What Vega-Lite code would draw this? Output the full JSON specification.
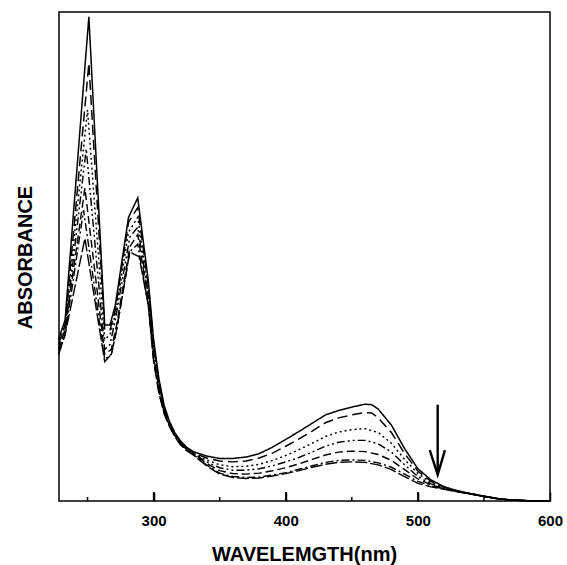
{
  "$schema": "https://vega.github.io/schema/vega-lite/v6.json",
  "width": 491,
  "height": 489,
  "autosize": {"type": "none"},
  "padding": {"left": 59, "top": 12, "right": 17, "bottom": 64},
  "background": "white",
  "config": {"view": {"stroke": "black", "strokeWidth": 1.5}, "font": "Liberation Sans"},
  "datasets": {
    "spectra": [
      {"s":1,"w":228,"a":0.33},{"s":1,"w":233,"a":0.37},{"s":1,"w":251,"a":0.99},{"s":1,"w":263,"a":0.36},{"s":1,"w":267,"a":0.36},{"s":1,"w":271,"a":0.40},{"s":1,"w":281,"a":0.58},{"s":1,"w":288,"a":0.62},{"s":1,"w":296,"a":0.45},{"s":1,"w":300,"a":0.33},{"s":1,"w":304,"a":0.25},{"s":1,"w":308,"a":0.195},{"s":1,"w":312,"a":0.163},{"s":1,"w":316,"a":0.14},{"s":1,"w":320,"a":0.124},{"s":1,"w":325,"a":0.11},{"s":1,"w":330,"a":0.101},{"s":1,"w":340,"a":0.092},{"s":1,"w":350,"a":0.087},{"s":1,"w":360,"a":0.087},{"s":1,"w":370,"a":0.09},{"s":1,"w":380,"a":0.097},{"s":1,"w":390,"a":0.11},{"s":1,"w":400,"a":0.126},{"s":1,"w":410,"a":0.142},{"s":1,"w":420,"a":0.159},{"s":1,"w":430,"a":0.176},{"s":1,"w":440,"a":0.185},{"s":1,"w":450,"a":0.192},{"s":1,"w":460,"a":0.198},{"s":1,"w":465,"a":0.197},{"s":1,"w":470,"a":0.188},{"s":1,"w":480,"a":0.155},{"s":1,"w":490,"a":0.107},{"s":1,"w":500,"a":0.066},{"s":1,"w":510,"a":0.043},{"s":1,"w":520,"a":0.029},{"s":1,"w":530,"a":0.021},{"s":1,"w":540,"a":0.015},{"s":1,"w":550,"a":0.01},{"s":1,"w":560,"a":0.005},{"s":1,"w":570,"a":0.002},{"s":1,"w":580,"a":0.001},{"s":1,"w":590,"a":0},{"s":1,"w":600,"a":0},

      {"s":2,"w":228,"a":0.32},{"s":2,"w":233,"a":0.36},{"s":2,"w":251,"a":0.895},{"s":2,"w":263,"a":0.35},{"s":2,"w":267,"a":0.35},{"s":2,"w":271,"a":0.39},{"s":2,"w":281,"a":0.57},{"s":2,"w":288,"a":0.60},{"s":2,"w":296,"a":0.44},{"s":2,"w":300,"a":0.32},{"s":2,"w":304,"a":0.245},{"s":2,"w":308,"a":0.19},{"s":2,"w":312,"a":0.16},{"s":2,"w":316,"a":0.138},{"s":2,"w":320,"a":0.122},{"s":2,"w":325,"a":0.108},{"s":2,"w":330,"a":0.099},{"s":2,"w":340,"a":0.088},{"s":2,"w":350,"a":0.082},{"s":2,"w":360,"a":0.08},{"s":2,"w":370,"a":0.082},{"s":2,"w":380,"a":0.088},{"s":2,"w":390,"a":0.098},{"s":2,"w":400,"a":0.112},{"s":2,"w":410,"a":0.127},{"s":2,"w":420,"a":0.143},{"s":2,"w":430,"a":0.16},{"s":2,"w":440,"a":0.17},{"s":2,"w":450,"a":0.176},{"s":2,"w":460,"a":0.181},{"s":2,"w":465,"a":0.18},{"s":2,"w":470,"a":0.17},{"s":2,"w":480,"a":0.14},{"s":2,"w":490,"a":0.097},{"s":2,"w":500,"a":0.061},{"s":2,"w":510,"a":0.04},{"s":2,"w":520,"a":0.028},{"s":2,"w":530,"a":0.02},{"s":2,"w":540,"a":0.015},{"s":2,"w":550,"a":0.01},{"s":2,"w":560,"a":0.005},{"s":2,"w":570,"a":0.002},{"s":2,"w":580,"a":0.001},{"s":2,"w":590,"a":0},{"s":2,"w":600,"a":0},

      {"s":3,"w":228,"a":0.32},{"s":3,"w":233,"a":0.36},{"s":3,"w":250,"a":0.80},{"s":3,"w":263,"a":0.33},{"s":3,"w":267,"a":0.34},{"s":3,"w":271,"a":0.38},{"s":3,"w":281,"a":0.55},{"s":3,"w":288,"a":0.58},{"s":3,"w":296,"a":0.43},{"s":3,"w":300,"a":0.31},{"s":3,"w":304,"a":0.24},{"s":3,"w":308,"a":0.187},{"s":3,"w":312,"a":0.158},{"s":3,"w":316,"a":0.136},{"s":3,"w":320,"a":0.12},{"s":3,"w":325,"a":0.107},{"s":3,"w":330,"a":0.098},{"s":3,"w":340,"a":0.084},{"s":3,"w":350,"a":0.074},{"s":3,"w":360,"a":0.07},{"s":3,"w":370,"a":0.071},{"s":3,"w":380,"a":0.075},{"s":3,"w":390,"a":0.083},{"s":3,"w":400,"a":0.093},{"s":3,"w":410,"a":0.105},{"s":3,"w":420,"a":0.118},{"s":3,"w":430,"a":0.132},{"s":3,"w":440,"a":0.141},{"s":3,"w":450,"a":0.146},{"s":3,"w":460,"a":0.148},{"s":3,"w":470,"a":0.14},{"s":3,"w":480,"a":0.118},{"s":3,"w":490,"a":0.085},{"s":3,"w":500,"a":0.056},{"s":3,"w":510,"a":0.038},{"s":3,"w":520,"a":0.027},{"s":3,"w":530,"a":0.02},{"s":3,"w":540,"a":0.015},{"s":3,"w":550,"a":0.01},{"s":3,"w":560,"a":0.005},{"s":3,"w":570,"a":0.002},{"s":3,"w":580,"a":0.001},{"s":3,"w":590,"a":0},{"s":3,"w":600,"a":0},

      {"s":4,"w":228,"a":0.31},{"s":4,"w":233,"a":0.35},{"s":4,"w":249,"a":0.72},{"s":4,"w":263,"a":0.31},{"s":4,"w":267,"a":0.32},{"s":4,"w":271,"a":0.37},{"s":4,"w":282,"a":0.54},{"s":4,"w":288,"a":0.56},{"s":4,"w":296,"a":0.42},{"s":4,"w":300,"a":0.30},{"s":4,"w":304,"a":0.235},{"s":4,"w":308,"a":0.185},{"s":4,"w":312,"a":0.156},{"s":4,"w":316,"a":0.135},{"s":4,"w":320,"a":0.119},{"s":4,"w":325,"a":0.106},{"s":4,"w":330,"a":0.097},{"s":4,"w":340,"a":0.08},{"s":4,"w":350,"a":0.068},{"s":4,"w":360,"a":0.063},{"s":4,"w":370,"a":0.063},{"s":4,"w":380,"a":0.066},{"s":4,"w":390,"a":0.072},{"s":4,"w":400,"a":0.08},{"s":4,"w":410,"a":0.089},{"s":4,"w":420,"a":0.10},{"s":4,"w":430,"a":0.112},{"s":4,"w":440,"a":0.12},{"s":4,"w":450,"a":0.124},{"s":4,"w":460,"a":0.124},{"s":4,"w":470,"a":0.117},{"s":4,"w":480,"a":0.10},{"s":4,"w":490,"a":0.074},{"s":4,"w":500,"a":0.05},{"s":4,"w":510,"a":0.035},{"s":4,"w":520,"a":0.026},{"s":4,"w":530,"a":0.02},{"s":4,"w":540,"a":0.015},{"s":4,"w":550,"a":0.01},{"s":4,"w":560,"a":0.005},{"s":4,"w":570,"a":0.002},{"s":4,"w":580,"a":0.001},{"s":4,"w":590,"a":0},{"s":4,"w":600,"a":0},

      {"s":5,"w":228,"a":0.31},{"s":5,"w":233,"a":0.35},{"s":5,"w":248,"a":0.64},{"s":5,"w":263,"a":0.30},{"s":5,"w":268,"a":0.31},{"s":5,"w":272,"a":0.36},{"s":5,"w":282,"a":0.52},{"s":5,"w":288,"a":0.545},{"s":5,"w":296,"a":0.41},{"s":5,"w":300,"a":0.295},{"s":5,"w":304,"a":0.23},{"s":5,"w":308,"a":0.183},{"s":5,"w":312,"a":0.155},{"s":5,"w":316,"a":0.134},{"s":5,"w":320,"a":0.118},{"s":5,"w":325,"a":0.105},{"s":5,"w":330,"a":0.096},{"s":5,"w":340,"a":0.077},{"s":5,"w":350,"a":0.062},{"s":5,"w":360,"a":0.056},{"s":5,"w":370,"a":0.055},{"s":5,"w":380,"a":0.057},{"s":5,"w":390,"a":0.062},{"s":5,"w":400,"a":0.068},{"s":5,"w":410,"a":0.076},{"s":5,"w":420,"a":0.085},{"s":5,"w":430,"a":0.094},{"s":5,"w":440,"a":0.10},{"s":5,"w":450,"a":0.102},{"s":5,"w":460,"a":0.101},{"s":5,"w":470,"a":0.095},{"s":5,"w":480,"a":0.083},{"s":5,"w":490,"a":0.064},{"s":5,"w":500,"a":0.045},{"s":5,"w":510,"a":0.033},{"s":5,"w":520,"a":0.025},{"s":5,"w":530,"a":0.019},{"s":5,"w":540,"a":0.014},{"s":5,"w":550,"a":0.009},{"s":5,"w":560,"a":0.005},{"s":5,"w":570,"a":0.002},{"s":5,"w":580,"a":0.001},{"s":5,"w":590,"a":0},{"s":5,"w":600,"a":0},

      {"s":6,"w":228,"a":0.30},{"s":6,"w":233,"a":0.34},{"s":6,"w":247,"a":0.595},{"s":6,"w":263,"a":0.29},{"s":6,"w":268,"a":0.30},{"s":6,"w":272,"a":0.35},{"s":6,"w":282,"a":0.51},{"s":6,"w":288,"a":0.525},{"s":6,"w":296,"a":0.40},{"s":6,"w":300,"a":0.29},{"s":6,"w":304,"a":0.225},{"s":6,"w":308,"a":0.18},{"s":6,"w":312,"a":0.153},{"s":6,"w":316,"a":0.133},{"s":6,"w":320,"a":0.117},{"s":6,"w":325,"a":0.104},{"s":6,"w":330,"a":0.095},{"s":6,"w":340,"a":0.074},{"s":6,"w":350,"a":0.057},{"s":6,"w":360,"a":0.05},{"s":6,"w":370,"a":0.048},{"s":6,"w":380,"a":0.049},{"s":6,"w":390,"a":0.053},{"s":6,"w":400,"a":0.058},{"s":6,"w":410,"a":0.065},{"s":6,"w":420,"a":0.072},{"s":6,"w":430,"a":0.079},{"s":6,"w":440,"a":0.083},{"s":6,"w":450,"a":0.084},{"s":6,"w":460,"a":0.083},{"s":6,"w":470,"a":0.078},{"s":6,"w":480,"a":0.069},{"s":6,"w":490,"a":0.055},{"s":6,"w":500,"a":0.04},{"s":6,"w":510,"a":0.031},{"s":6,"w":520,"a":0.024},{"s":6,"w":530,"a":0.019},{"s":6,"w":540,"a":0.014},{"s":6,"w":550,"a":0.009},{"s":6,"w":560,"a":0.005},{"s":6,"w":570,"a":0.002},{"s":6,"w":580,"a":0.001},{"s":6,"w":590,"a":0},{"s":6,"w":600,"a":0},

      {"s":7,"w":228,"a":0.30},{"s":7,"w":233,"a":0.34},{"s":7,"w":248,"a":0.537},{"s":7,"w":263,"a":0.285},{"s":7,"w":268,"a":0.30},{"s":7,"w":272,"a":0.35},{"s":7,"w":282,"a":0.51},{"s":7,"w":285,"a":0.505},{"s":7,"w":289,"a":0.50},{"s":7,"w":296,"a":0.40},{"s":7,"w":300,"a":0.285},{"s":7,"w":304,"a":0.22},{"s":7,"w":308,"a":0.178},{"s":7,"w":312,"a":0.152},{"s":7,"w":316,"a":0.132},{"s":7,"w":320,"a":0.116},{"s":7,"w":325,"a":0.103},{"s":7,"w":330,"a":0.094},{"s":7,"w":340,"a":0.072},{"s":7,"w":350,"a":0.055},{"s":7,"w":360,"a":0.048},{"s":7,"w":370,"a":0.046},{"s":7,"w":380,"a":0.047},{"s":7,"w":390,"a":0.051},{"s":7,"w":400,"a":0.056},{"s":7,"w":410,"a":0.062},{"s":7,"w":420,"a":0.069},{"s":7,"w":430,"a":0.075},{"s":7,"w":440,"a":0.079},{"s":7,"w":450,"a":0.08},{"s":7,"w":460,"a":0.079},{"s":7,"w":470,"a":0.074},{"s":7,"w":480,"a":0.064},{"s":7,"w":490,"a":0.05},{"s":7,"w":500,"a":0.036},{"s":7,"w":510,"a":0.029},{"s":7,"w":520,"a":0.024},{"s":7,"w":530,"a":0.019},{"s":7,"w":540,"a":0.014},{"s":7,"w":550,"a":0.009},{"s":7,"w":560,"a":0.005},{"s":7,"w":570,"a":0.002},{"s":7,"w":580,"a":0.001},{"s":7,"w":590,"a":0},{"s":7,"w":600,"a":0}
    ],
    "arrow": [
      {"part":"shaft","o":1,"w":515,"a":0.197},
      {"part":"shaft","o":2,"w":515,"a":0.056},
      {"part":"head","o":1,"w":509,"a":0.104},
      {"part":"head","o":2,"w":515,"a":0.054},
      {"part":"head","o":3,"w":520.5,"a":0.104}
    ],
    "ticks": [
      {"w":250,"k":"minor"},{"w":300,"k":"major"},{"w":350,"k":"minor"},{"w":400,"k":"major"},
      {"w":450,"k":"minor"},{"w":500,"k":"major"},{"w":550,"k":"minor"}
    ]
  },
  "resolve": {"axis": {"x": "independent", "y": "independent"}},
  "layer": [
    {
      "data": {"name": "spectra"},
      "mark": {"type": "line", "color": "black", "strokeCap": "butt"},
      "encoding": {
        "x": {
          "field": "w", "type": "quantitative",
          "scale": {"domain": [228.4, 600], "nice": false, "zero": false},
          "axis": {
            "title": "WAVELEMGTH(nm)",
            "values": [300, 400, 500, 600],
            "offset": -9,
            "domain": false, "grid": false, "zindex": 2,
            "tickColor": "black", "tickWidth": 1.5,
            "tickSize": 9,
            "labelPadding": 12,
            "labelFontSize": 15, "labelFontWeight": "bold", "labelColor": "black",
            "labelOverlap": false, "labelFlush": false,
            "titleFontSize": 20, "titleFontWeight": "bold", "titleColor": "black",
            "titleX": 245, "titleY": 68.5, "titleBaseline": "alphabetic", "titleAlign": "center"
          }
        },
        "y": {
          "field": "a", "type": "quantitative",
          "scale": {"domain": [0, 1], "nice": false},
          "axis": {
            "title": "ABSORBANCE",
            "ticks": false, "labels": false, "domain": false, "grid": false,
            "titleFontSize": 20, "titleFontWeight": "bold", "titleColor": "black",
            "titleX": -28, "titleY": 245, "titleAngle": -90,
            "titleBaseline": "alphabetic", "titleAlign": "center"
          }
        },
        "detail": {"field": "s", "type": "nominal"},
        "strokeDash": {
          "field": "s", "type": "nominal",
          "scale": {"domain": [1, 2, 3, 4, 5, 6, 7], "range": [[1, 0], [10, 5], [2, 3], [8, 3, 2, 3, 2, 3], [8, 4], [8, 3, 2, 3], [12, 3]]},
          "legend": null
        },
        "strokeWidth": {
          "field": "s", "type": "ordinal",
          "scale": {"domain": [1, 2, 3, 4, 5, 6, 7], "range": [1.5, 1.4, 1.2, 1.3, 1.4, 1.4, 2]},
          "legend": null
        }
      }
    },
    {
      "data": {"name": "arrow"},
      "mark": {"type": "line", "color": "black", "strokeWidth": 2.4},
      "encoding": {
        "x": {"field": "w", "type": "quantitative", "axis": null},
        "y": {"field": "a", "type": "quantitative", "axis": null},
        "detail": {"field": "part", "type": "nominal"},
        "order": {"field": "o", "type": "quantitative"}
      }
    },
    {
      "data": {"name": "ticks"},
      "mark": {"type": "tick", "orient": "vertical", "clip": true, "color": "black", "thickness": 1.5, "opacity": 1},
      "encoding": {
        "x": {"field": "w", "type": "quantitative", "axis": null},
        "y": {"datum": 0, "type": "quantitative", "axis": null},
        "size": {
          "field": "k", "type": "nominal",
          "scale": {"domain": ["major", "minor"], "range": [18, 8]},
          "legend": null
        }
      }
    }
  ]
}
